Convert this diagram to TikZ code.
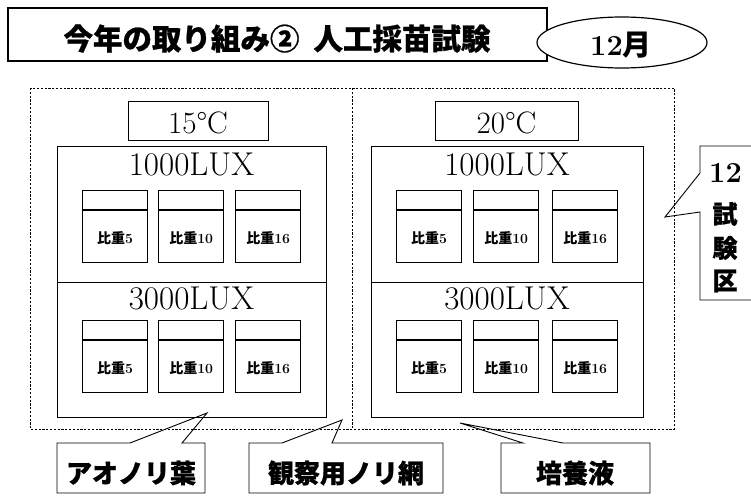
\documentclass[tikz,border=0pt]{standalone}
\usepackage{fontspec}
\newfontfamily\jp{Noto Sans CJK JP}[BoldFeatures={FakeBold=0.8}]
\newfontfamily\jpn{Noto Sans CJK JP}
\usetikzlibrary{shapes.geometric}
\tikzset{
  frame/.style={draw=black, line width=1.2pt, inner sep=0pt},
  panelbox/.style={draw=black, line width=0.8pt, inner sep=0pt, anchor=north west},
  tank/.style={draw=black, line width=1.3pt, inner sep=0pt, anchor=north west, minimum width=65pt, minimum height=72pt},
  tankline/.style={draw=black, line width=1.6pt},
  zone/.style={draw=black, line width=0.9pt, dash pattern=on 2.2pt off 1.6pt},
  callout/.style={draw=black, line width=0.9pt, line join=miter},
  luxtext/.style={inner sep=0pt, font=\fontsize{33}{35}\selectfont},
  temptext/.style={inner sep=0pt, font=\fontsize{31}{33}\selectfont},
  tanklabel/.style={inner sep=0pt, font=\fontsize{14}{16}\selectfont\bfseries},
  calltext/.style={inner sep=0pt, font=\fontsize{26}{28}\selectfont\jp\bfseries},
  sidetext/.style={inner sep=0pt, font=\fontsize{29}{31}\selectfont\bfseries},
  sidejp/.style={inner sep=0pt, font=\fontsize{25}{27}\selectfont\jp\bfseries},
}
\newcommand{\hijuu}[1]{{\jpn\bfseries 比重}#1}
\begin{document}
\begin{tikzpicture}[x=1pt,y=-1pt]
\useasboundingbox (0,0) rectangle (751,495);
\fill[white] (0,0) rectangle (751,495);

% title
\node[frame, minimum width=539pt, minimum height=53pt] (titlebox) at (277.5,34.5) {};
\node[inner sep=0pt, font=\fontsize{29.5}{31}\selectfont\jp\bfseries] (titletext) at (277,38.5) {今年の取り組み②\hspace{14pt}人工採苗試験};
\node[frame, ellipse, fill=white, minimum width=170pt, minimum height=51pt] (month) at (622,42.5) {};
\node[inner sep=0pt, font=\fontsize{29}{31}\selectfont\bfseries] (monthtext) at (621,45) {12{\jpn 月}};

% dashed test zone
\draw[zone] (30,88) rectangle (674,429);
\draw[zone] (352,88) -- (352,429);

% temperature boxes
\node[frame, line width=0.8pt, minimum width=140pt, minimum height=39pt] (t15) at (198,120.5) {};
\node[temptext] (t15text) at (198,123) {15°C};
\node[frame, line width=0.8pt, minimum width=143pt, minimum height=39pt] (t20) at (506.5,120.5) {};
\node[temptext] (t20text) at (506.5,123) {20°C};

% panels
\node[panelbox, minimum width=269pt, minimum height=271pt] (p1) at (57,146) {};
\draw[panelbox] ([yshift=-136pt]p1.north west) -- ([yshift=-136pt]p1.north east);
\node[panelbox, minimum width=272pt, minimum height=271pt] (p2) at (371,146) {};
\draw[panelbox] ([yshift=-136pt]p2.north west) -- ([yshift=-136pt]p2.north east);

\node[luxtext] (lux1a) at (191.5,164) {1000LUX};
\node[luxtext] (lux1b) at (191.5,298.5) {3000LUX};
\node[luxtext] (lux2a) at (507,164) {1000LUX};
\node[luxtext] (lux2b) at (507,298.5) {3000LUX};

% tanks
\foreach \px/\pn/\num in {82/a1/5,158/a2/10,235/a3/16,396/b1/5,473/b2/10,552/b3/16}{
  \foreach \py/\rn in {190/r1,320/r2}{
    \node[tank] (\pn\rn) at (\px,\py) {};
    \draw[tankline] ([yshift=-20pt]\pn\rn.north west) -- ([yshift=-20pt]\pn\rn.north east);
    \node[tanklabel] (\pn\rn lab) at ([yshift=-11pt]\pn\rn.center) {\hijuu{\num}};
  }
}

% right callout: 12 test plots
\coordinate (tipR) at (665,217);
\draw[callout] (754,146) -- (700,146) -- (700,173) -- (tipR) -- (700,212) -- (700,300) -- (754,300);
\node[sidetext] (s1) at (725.5,173) {12};
\node[sidejp] (s2) at (725,214) {試};
\node[sidejp] (s3) at (725,248) {験};
\node[sidejp] (s4) at (725,281) {区};

% bottom callouts
\coordinate (tipA) at (207,413);
\draw[callout] (130,443) -- (tipA) -- (182,443) -- (205,443) -- (205,493) -- (57,493) -- (57,443) -- cycle;
\node[calltext] (ca) at (131,473) {アオノリ葉};

\coordinate (tipB) at (342,420);
\draw[callout] (282,443) -- (tipB) -- (332,443) -- (443,443) -- (443,493) -- (249,493) -- (249,443) -- cycle;
\node[calltext] (cb) at (346,473) {観察用ノリ網};

\coordinate (tipC) at (460,423);
\draw[callout] (523,443) -- (tipC) -- (563,443) -- (650,443) -- (650,493) -- (501,493) -- (501,443) -- cycle;
\node[calltext] (cc) at (575,473) {培養液};
\end{tikzpicture}
\end{document}
